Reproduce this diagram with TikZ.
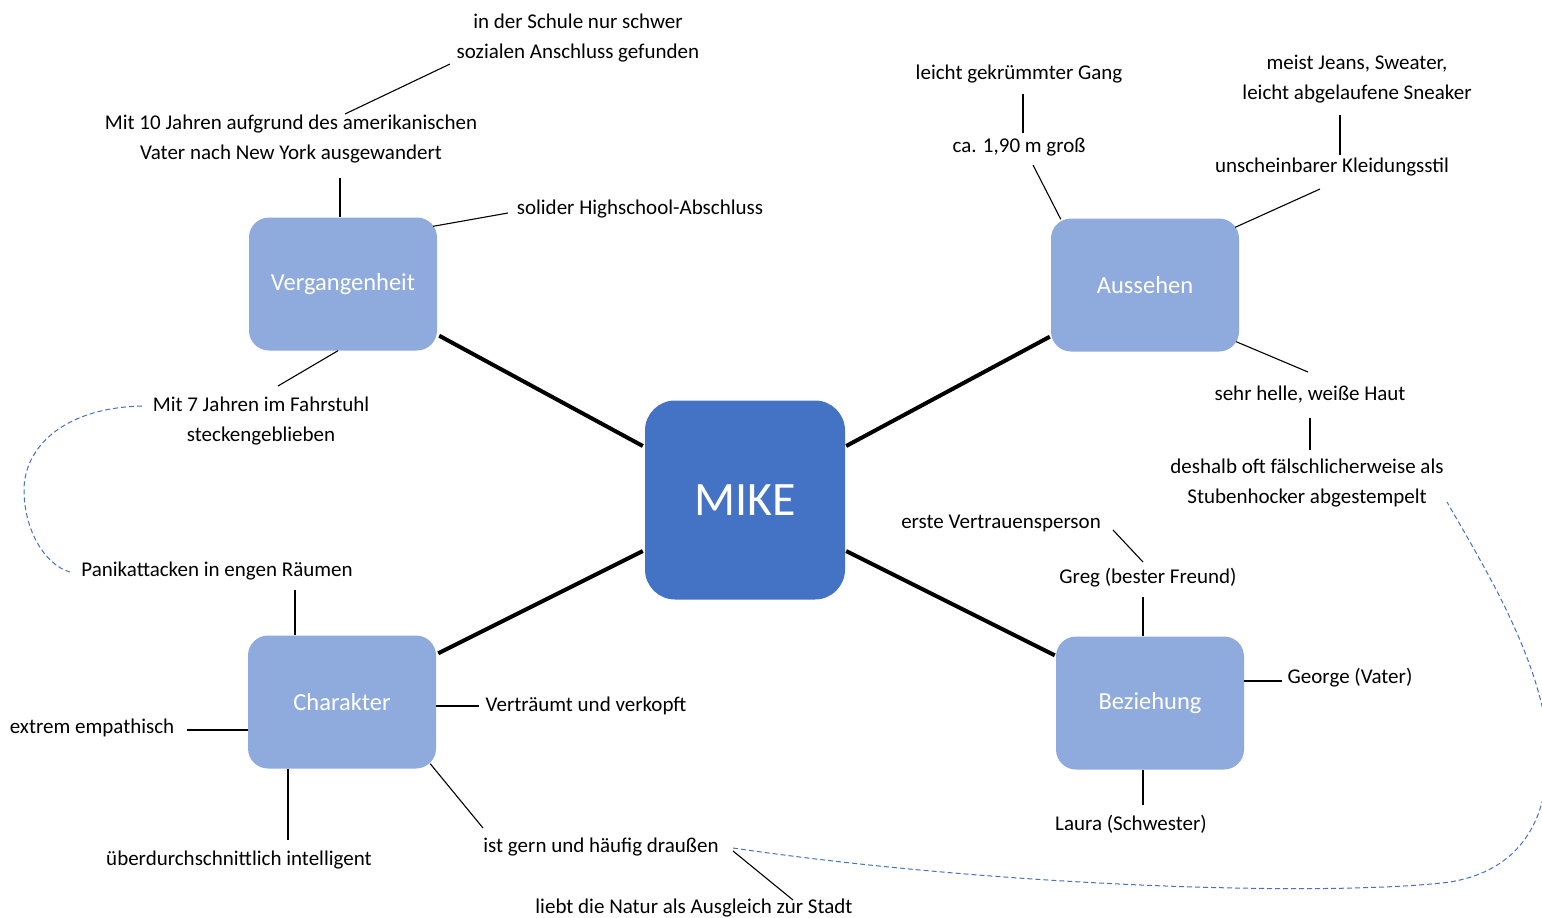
\documentclass[tikz,border=0pt]{standalone}
\usepackage{fontspec}
\setmainfont{Carlito}
\usetikzlibrary{calc}
\definecolor{boxlight}{HTML}{8FAADC}
\definecolor{boxdark}{HTML}{4472C4}
\definecolor{dashblue}{HTML}{4472C4}
\tikzset{
  cat/.style={fill=boxlight, rounded corners=20pt, minimum width=188pt, minimum height=133pt, inner sep=0pt, text=white, font=\fontsize{24.5}{28}\selectfont},
  core/.style={fill=boxdark, rounded corners=30pt, minimum width=200pt, minimum height=199pt, inner sep=0pt, text=white, font=\fontsize{48}{52}\selectfont},
  txt/.style={inner sep=0pt, align=center, font=\fontsize{21}{30}\selectfont},
  heavy/.style={line width=4pt, black},
  thin/.style={line width=1.1pt, black},
  dashlink/.style={dashblue, line width=1pt, dash pattern=on 5pt off 3pt}
}
\begin{document}
\begin{tikzpicture}[x=1pt,y=-1pt]
\useasboundingbox (0,0) rectangle (1542,918);
\fill[white] (0,0) rectangle (1542,918);
% boxes
\node[core] (mike) at (745,500) {MIKE};
\node[cat] (vg) at (343,284) {Vergangenheit};
\node[cat] (au) at (1145,285) {Aussehen};
\node[cat] (ch) at (342,702) {Charakter};
\node[cat] (bz) at (1150,703) {Beziehung};
% texts
\node[txt] (schule) at (578,38) {in der Schule nur schwer\\sozialen Anschluss gefunden};
\node[txt] (mit10) at (291,139) {Mit 10 Jahren aufgrund des amerikanischen\\Vater nach New York ausgewandert};
\node[txt] (abschluss) at (640,209) {solider Highschool-Abschluss};
\node[txt] (mit7) at (261,421) {Mit 7 Jahren im Fahrstuhl\\steckengeblieben};
\node[txt] (panik) at (217,571) {Panikattacken in engen Räumen};
\node[txt] (empath) at (92,728) {extrem empathisch};
\node[txt] (vertr) at (586,706) {Verträumt und verkopft};
\node[txt] (intell) at (239,860) {überdurchschnittlich intelligent};
\node[txt] (draussen) at (601,847) {ist gern und häufig draußen};
\node[txt] (natur) at (694,908) {liebt die Natur als Ausgleich zur Stadt};
\node[txt] (gang) at (1019,74) {leicht gekrümmter Gang};
\node[txt] (gross) at (1019,147) {ca. 1,90 m groß};
\node[txt] (jeans) at (1357,79) {meist Jeans, Sweater,\\leicht abgelaufene Sneaker};
\node[txt] (kleid) at (1332,167) {unscheinbarer Kleidungsstil};
\node[txt] (haut) at (1310,395) {sehr helle, weiße Haut};
\node[txt] (deshalb) at (1307,483) {deshalb oft fälschlicherweise als\\Stubenhocker abgestempelt};
\node[txt] (vertrauen) at (1001,523) {erste Vertrauensperson};
\node[txt] (greg) at (1148,578) {Greg (bester Freund)};
\node[txt] (george) at (1350,678) {George (Vater)};
\node[txt] (laura) at (1131,824) {Laura (Schwester)};
% heavy links
\draw[heavy] ($(vg.south east)+(2,-15)$) -- ($(mike.west)+(-2,-54)$);
\draw[heavy] ($(au.south west)+(-1,-15)$) -- ($(mike.east)+(1,-54)$);
\draw[heavy] ($(ch.north east)+(2,18)$) -- ($(mike.west)+(-2,51)$);
\draw[heavy] ($(bz.north west)+(-1,19)$) -- ($(mike.east)+(1,51)$);
% thin links
\draw[thin] ($(schule)+(-128,26)$) -- ($(mit10)+(54,-25)$);
\draw[thin] ($(mit10)+(49,39)$) -- ($(vg.north)+(-3,0)$);
\draw[thin] ($(vg.north east)+(-4,9)$) -- ($(abschluss)+(-132,4)$);
\draw[thin] ($(vg.south)+(-5,0)$) -- ($(mit7)+(17,-35)$);
\draw[thin] ($(panik)+(78,19)$) -- ($(ch.north)+(-47,0)$);
\draw[thin] ($(empath)+(95,2)$) -- ($(ch.west)+(0,28)$);
\draw[thin] ($(ch.east)+(0,4)$) -- ($(vertr)+(-107,0)$);
\draw[thin] ($(ch.south)+(-54,0)$) -- ($(intell)+(49,-20)$);
\draw[thin] ($(ch.south east)+(-6,-5)$) -- ($(draussen)+(-118,-19)$);
\draw[thin] ($(draussen)+(132,4)$) -- ($(natur)+(99,-8)$);
\draw[thin] ($(gang)+(4,20)$) -- ($(gross)+(4,-14)$);
\draw[thin] ($(gross)+(14,18)$) -- ($(au.north west)+(10,1)$);
\draw[thin] ($(jeans)+(-17,36)$) -- ($(kleid)+(8,-12)$);
\draw[thin] ($(kleid)+(-12,22)$) -- ($(au.north east)+(-4,9)$);
\draw[thin] ($(au.south east)+(-3,-10)$) -- ($(haut)+(-2,-23)$);
\draw[thin] ($(haut)+(0,23)$) -- ($(deshalb)+(3,-33)$);
\draw[thin] ($(vertrauen)+(112,7)$) -- ($(greg)+(-5,-16)$);
\draw[thin] ($(greg)+(-5,19)$) -- ($(bz.north)+(-7,0)$);
\draw[thin] ($(bz.east)+(0,-22)$) -- ($(george)+(-68,3)$);
\draw[thin] ($(bz.south)+(-7,0)$) -- ($(laura)+(12,-19)$);
% dashed links
\draw[dashlink] ($(mit7)+(-119,-15)$) .. controls (60,408) and (24,450) .. (24,490) .. controls (24,530) and (45,565) .. ($(panik)+(-147,1)$);
\begin{scope}
\clip (0,0) rectangle (1542,918);
\draw[dashlink] ($(draussen)+(132,1)$) .. controls (1000,887) and (1330,897) .. (1450,882) .. controls (1540,867) and (1555,790) .. (1545,720) .. controls (1530,640) and (1480,560) .. ($(deshalb)+(140,19)$);
\end{scope}
\end{tikzpicture}
\end{document}
